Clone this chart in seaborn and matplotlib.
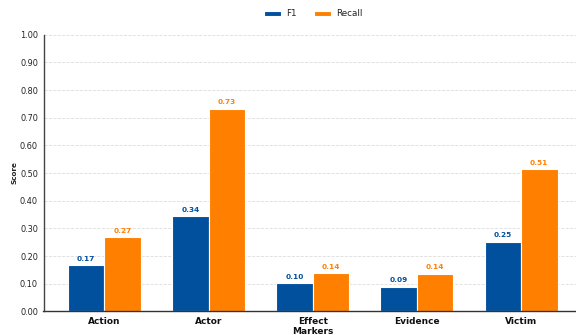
import matplotlib
matplotlib.use("Agg")
import matplotlib.pyplot as plt
import seaborn as sns
import pandas as pd
import numpy as np

categories = ["Action", "Actor", "Effect\nMarkers", "Evidence", "Victim"]
f1_values = [0.167, 0.344, 0.101, 0.089, 0.252]
recall_values = [0.268, 0.732, 0.138, 0.136, 0.513]
series_names = ["F1", "Recall"]
colors = ["#00509e", "#ff8000"]

df = pd.DataFrame({
    "Category": categories * 2,
    "Metric": [series_names[0]] * len(categories) + [series_names[1]] * len(categories),
    "Score": f1_values + recall_values,
})

sns.set_theme(style="white")
plt.rcParams['font.family'] = ['DejaVu Sans']

fig = plt.figure(figsize=(5.76, 3.35), dpi=100)
L, R, T, B = 43.5, 582.0, 34.8, 311.3
ax = fig.add_axes([L/576, 1 - B/335, (R - L)/576, (B - T)/335])

sns.barplot(data=df, x="Category", y="Score", hue="Metric", palette=colors,
            width=0.7, gap=0, edgecolor="white", linewidth=0.8, ax=ax,
            saturation=1.0)

for cont, col in zip(ax.containers, colors):
    for bar in cont:
        h = bar.get_height()
        ax.annotate(f"{h:.2f}", (bar.get_x() + bar.get_width() / 2, h),
                    xytext=(0, 2.5), textcoords="offset points",
                    ha="center", va="bottom", fontsize=5.3, fontweight="bold",
                    color=col)

ax.set_ylim(0, 1.0)
ax.set_xlim(-0.585, 4.585)
ax.set_yticks(np.arange(0, 1.01, 0.1))
ax.set_yticklabels([f"{v:.2f}" for v in np.arange(0, 1.01, 0.1)], fontsize=5.9)
ax.tick_params(axis="y", length=2.5, width=0.8, color="#333333", pad=1.5, labelcolor="#222222")
ax.tick_params(axis="x", length=2.5, width=0.8, color="#333333", pad=1.5)
for lbl in ax.get_xticklabels():
    lbl.set_fontweight("bold")
    lbl.set_fontsize(6.5)
    lbl.set_color("#111111")
    lbl.set_linespacing(1.1)

ax.set_xlabel("")
ax.set_ylabel("Score", fontsize=5.2, fontweight="bold")
ax.yaxis.set_label_coords((17.5 - L) / (R - L), 0.5)
ax.yaxis.grid(True, linestyle="--", color="#dddddd", linewidth=0.6)
ax.set_axisbelow(True)
for s in ["top", "right"]:
    ax.spines[s].set_visible(False)
ax.spines["left"].set_color("#444444")
ax.spines["bottom"].set_color("#333333")
ax.spines["left"].set_linewidth(1.0)
ax.spines["bottom"].set_linewidth(1.0)

leg = ax.legend(loc="center", bbox_to_anchor=(313/576, 1 - 14/335),
                bbox_transform=fig.transFigure, ncol=2, frameon=False,
                fontsize=6.3, handlelength=2.0, handleheight=0.57,
                columnspacing=2.0, handletextpad=0.55, borderaxespad=0,
                borderpad=0)
for t in leg.get_texts():
    t.set_color("#222222")

fig.savefig("out.png", dpi=100)
